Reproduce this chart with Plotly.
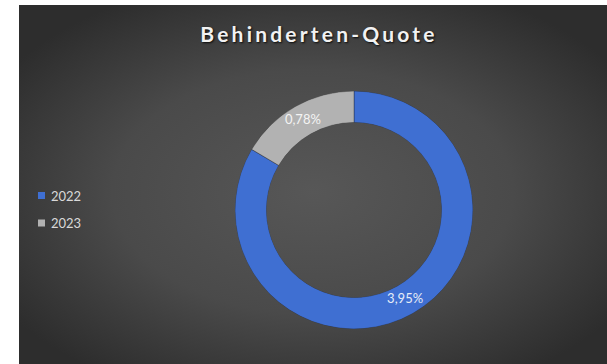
import base64
import plotly.graph_objects as go

# Data
years = ["2022", "2023"]
quote = [3.95, 0.78]
slice_colors = ["#3f6fd2", "#b2b2b2"]
label_colors = ["#e6ecf7", "#f4f4f4"]
chart_title = "Behinderten-Quote"

W, H = 607, 364
HOLE = 0.735
DOMAIN = dict(x=[235 / W, 473 / W], y=[1 - 329 / H, 1 - 91 / H])

# Dark radial-gradient chart panel, used as a background image
panel_svg = (
    '<svg xmlns="http://www.w3.org/2000/svg" width="588" height="359" '
    'preserveAspectRatio="none">'
    '<defs><radialGradient id="g" cx="50%" cy="52%" r="62%">'
    '<stop offset="0" stop-color="#575757"/>'
    '<stop offset="0.55" stop-color="#4a4a4a"/>'
    '<stop offset="1" stop-color="#2d2d2d"/>'
    '</radialGradient></defs>'
    '<rect width="100%" height="100%" fill="url(#g)"/></svg>'
)
panel_uri = "data:image/svg+xml;base64," + base64.b64encode(panel_svg.encode()).decode()

# Slice geometry: clockwise from 12 o'clock, each slice spans its share of 360°
total = sum(quote)
spans = [360.0 * v / total for v in quote]
mid_theta = []
acc = 0.0
for s in spans:
    mid_theta.append(acc + s / 2)
    acc += s

fig = go.Figure()

# Donut ring as polar bars on a polar subplot with a hole
fig.add_trace(go.Barpolar(
    r=[1] * len(quote),
    theta=mid_theta,
    width=spans,
    customdata=quote,
    hovertext=years,
    marker=dict(color=slice_colors, line=dict(color="rgba(25,25,25,0.35)", width=1)),
    hovertemplate="%{hovertext}: %{customdata:.2f}%<extra></extra>",
    showlegend=False,
))

# Horizontal value labels at the middle of each slice
fig.add_trace(go.Scatterpolar(
    r=[0.5] * len(quote),
    theta=mid_theta,
    customdata=quote,
    mode="text",
    texttemplate="%{customdata:.2f}%",
    textposition="middle center",
    textfont=dict(family="Lato", size=13, color=label_colors),
    showlegend=False,
    hoverinfo="skip",
))

# Legend: small colour squares with year labels on the left
shapes = []
annotations = []
for i, (yr, col) in enumerate(zip(years, slice_colors)):
    cy = 195.5 + i * 27.5
    shapes.append(dict(
        type="rect", xref="paper", yref="paper", layer="above",
        x0=38 / W, x1=45 / W, y0=1 - (cy + 3.5) / H, y1=1 - (cy - 3.5) / H,
        fillcolor=col, line=dict(width=0),
    ))
    annotations.append(dict(
        text=yr, xref="paper", yref="paper", x=48.5 / W, y=1 - cy / H,
        xanchor="left", yanchor="middle", showarrow=False,
        font=dict(family="Lato", size=13, color="#d9d9d9"),
    ))

fig.update_layout(
    width=W,
    height=H,
    margin=dict(l=0, r=0, t=0, b=0),
    paper_bgcolor="white",
    plot_bgcolor="rgba(0,0,0,0)",
    separators=",.",
    polar=dict(
        domain=DOMAIN,
        hole=HOLE,
        bargap=0,
        bgcolor="rgba(0,0,0,0)",
        radialaxis=dict(range=[0, 1], visible=False, showgrid=False),
        angularaxis=dict(rotation=90, direction="clockwise", visible=False,
                         showgrid=False, showline=False),
    ),
    title=dict(
        text="<span style='letter-spacing:3.2px'>" + chart_title + "</span>",
        x=319 / W, xref="paper", xanchor="center",
        y=1 - 35 / H, yref="container", yanchor="middle",
        font=dict(family="Lato", size=21, weight="bold", color="#f2f2f2",
                  shadow="1px 1px 2px rgba(0,0,0,0.85)"),
    ),
    images=[dict(
        source=panel_uri, xref="paper", yref="paper",
        x=19 / W, y=1 - 5 / H, sizex=(W - 19) / W, sizey=(H - 5) / H,
        xanchor="left", yanchor="top", sizing="stretch", layer="below",
    )],
    shapes=shapes,
    annotations=annotations,
)

fig.write_html("out.html")
